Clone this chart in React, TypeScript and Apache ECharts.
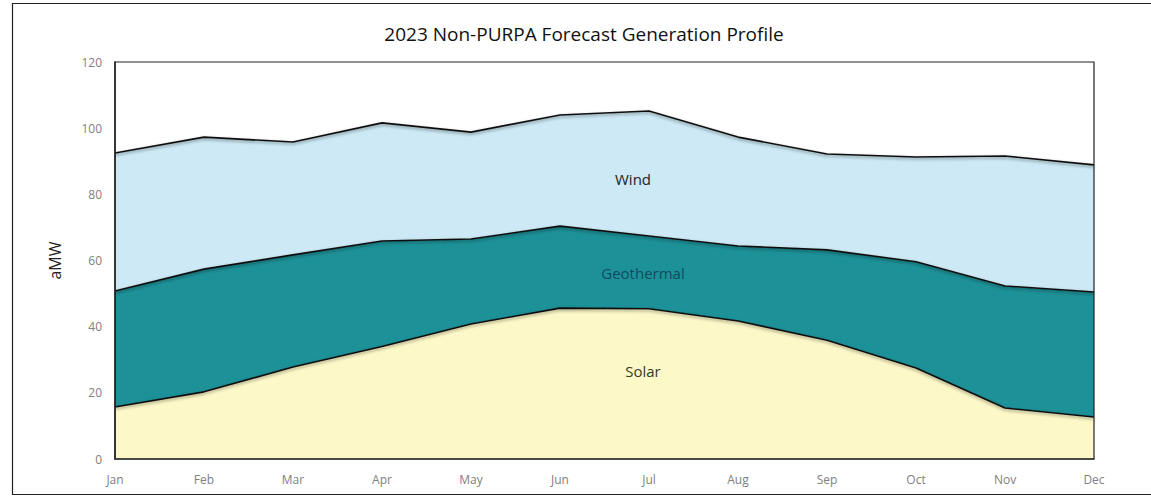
import React, { useEffect, useRef } from "react";
import * as echarts from "echarts";

const months = ["Jan", "Feb", "Mar", "Apr", "May", "Jun", "Jul", "Aug", "Sep", "Oct", "Nov", "Dec"];
// aMW by resource, stacked bottom to top
const solar = [15.7, 20.3, 27.8, 34.0, 40.8, 45.6, 45.4, 41.7, 35.9, 27.5, 15.4, 12.7];
const geothermal = [35.1, 37.1, 33.9, 31.9, 25.7, 24.8, 22.0, 22.7, 27.3, 32.1, 36.9, 37.8];
const wind = [41.7, 39.9, 34.1, 35.7, 32.3, 33.6, 37.8, 32.9, 29.0, 31.7, 39.3, 38.4];
const yTicks = [0, 20, 40, 60, 80, 100, 120];

const FONT = "'Open Sans', 'Noto Sans', sans-serif";

export default function App() {
  const ref = useRef<HTMLDivElement>(null);

  useEffect(() => {
    if (!ref.current) return;
    const chart = echarts.init(ref.current, undefined, { renderer: "svg" });

    const areaSeries = (name: string, data: number[], color: string) => ({
      name,
      type: "line",
      stack: "total",
      data,
      symbol: "none",
      smooth: false,
      lineStyle: {
        color: "#111",
        width: 1.6,
        shadowColor: "rgba(0,0,0,0.45)",
        shadowBlur: 3,
        shadowOffsetY: 1.5,
      },
      areaStyle: { color, opacity: 1 },
      z: 2,
    });

    const areaLabel = (text: string, x: number, y: number, color: string) => ({
      type: "text",
      x,
      y,
      style: {
        text,
        fill: color,
        font: `15px ${FONT}`,
        textAlign: "center",
        textVerticalAlign: "middle",
      },
      z: 10,
    });

    chart.setOption({
      animation: false,
      backgroundColor: "#ffffff",
      title: {
        text: "2023 Non-PURPA Forecast Generation Profile",
        left: 579,
        top: 19,
        textAlign: "center",
        textStyle: { fontFamily: FONT, fontSize: 19, fontWeight: "normal", color: "#111" },
      },
      grid: {
        left: 115,
        top: 62,
        right: 57,
        bottom: 37,
        show: true,
        borderColor: "#222",
        borderWidth: 1.2,
        backgroundColor: "transparent",
        z: 5,
      },
      xAxis: {
        type: "category",
        data: months,
        boundaryGap: false,
        axisLine: { show: true, lineStyle: { color: "#333", width: 1.5 } },
        axisTick: { show: false },
        axisLabel: { color: "#808080", fontFamily: FONT, fontSize: 12, margin: 14 },
        z: 6,
      },
      yAxis: {
        type: "value",
        min: yTicks[0],
        max: yTicks[yTicks.length - 1],
        interval: 20,
        name: "aMW",
        nameLocation: "middle",
        nameGap: 52,
        nameTextStyle: { color: "#222", fontFamily: FONT, fontSize: 16 },
        axisLine: { show: true, lineStyle: { color: "#222", width: 1.5 } },
        axisTick: { show: false },
        splitLine: { show: false },
        axisLabel: { color: "#808080", fontFamily: FONT, fontSize: 12, margin: 13 },
        z: 6,
      },
      series: [
        areaSeries("Solar", solar, "#fcf8c8"),
        areaSeries("Geothermal", geothermal, "#1d9198"),
        areaSeries("Wind", wind, "#cce9f5"),
      ],
      graphic: [
        {
          type: "rect",
          shape: { x: 12.5, y: 3.5, width: 1160, height: 491 },
          style: { fill: "none", stroke: "#222", lineWidth: 1.2 },
          silent: true,
          z: 10,
        },
        areaLabel("Wind", 633, 179, "#222"),
        areaLabel("Geothermal", 643, 273, "#124a60"),
        areaLabel("Solar", 643, 371, "#3a3a20"),
      ],
    });

    return () => chart.dispose();
  }, []);

  return (
    <div
      ref={ref}
      style={{ position: "fixed", left: 0, top: 0, width: 1151, height: 496 }}
    />
  );
}
